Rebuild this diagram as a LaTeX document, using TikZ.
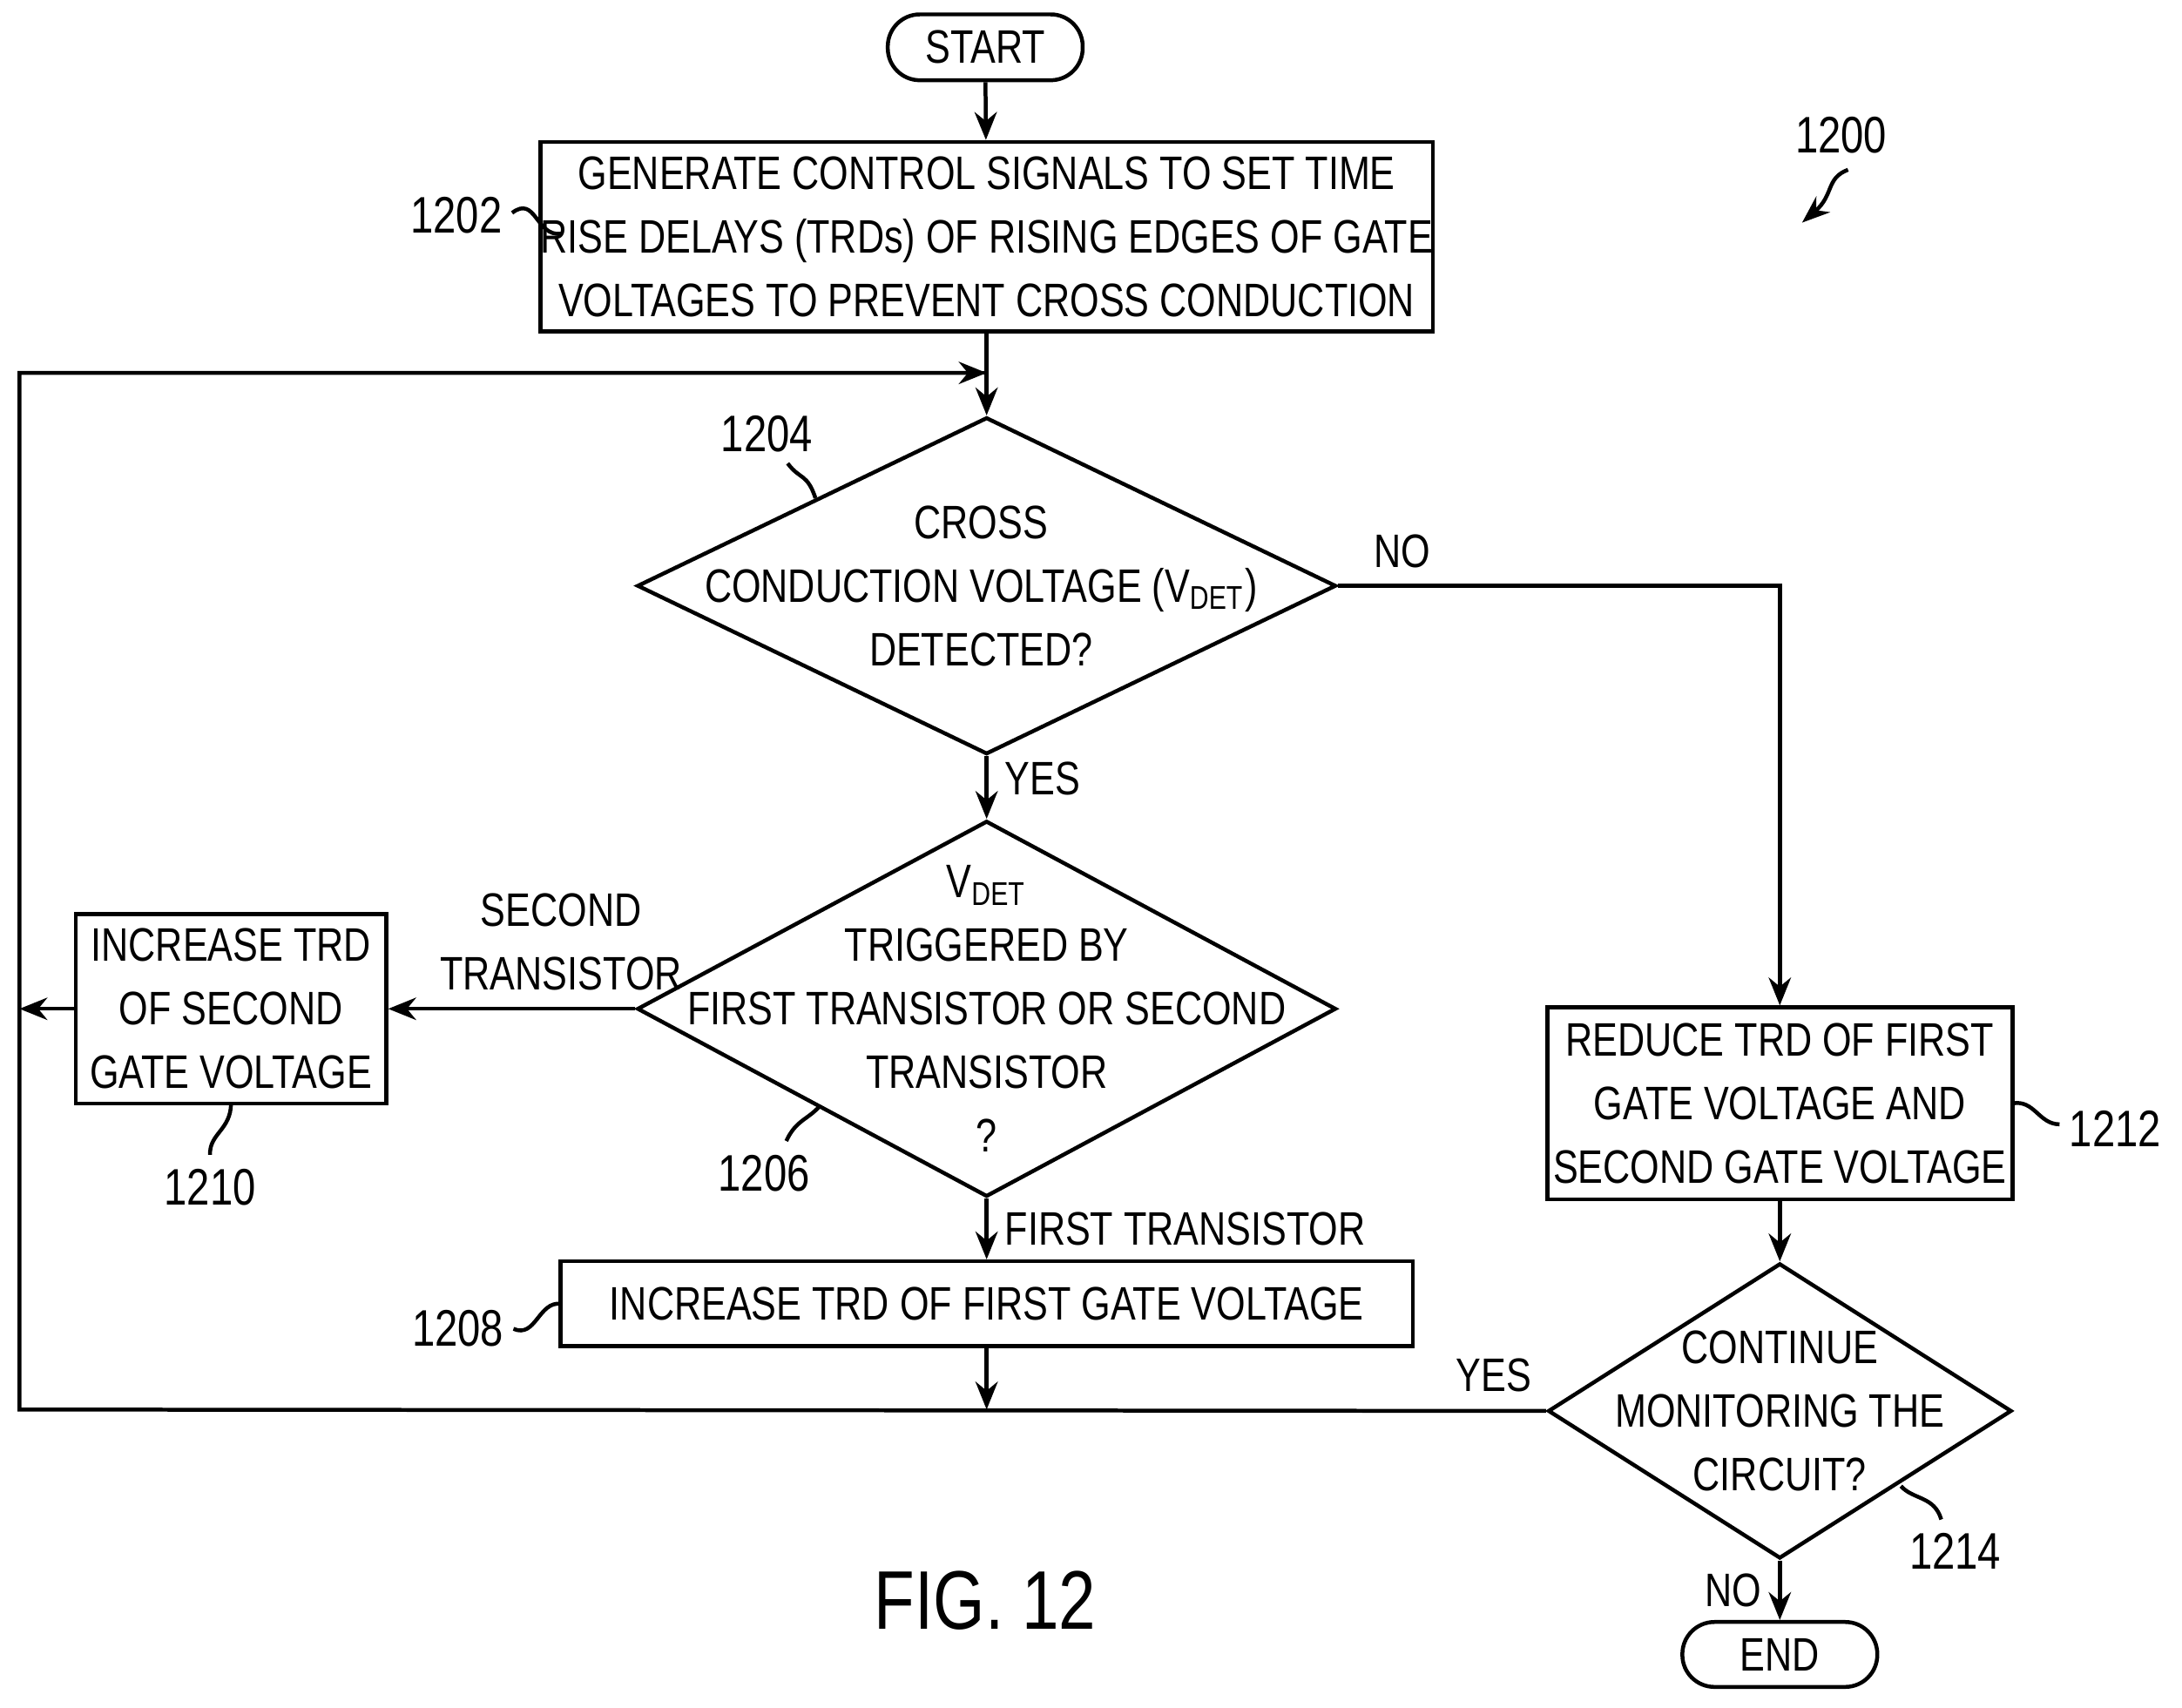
\documentclass[tikz,border=0pt]{standalone}
\usepackage{fontspec}
\setmainfont{Liberation Sans}[FakeStretch=0.8]
\usetikzlibrary{shapes.geometric, positioning, arrows.meta}
\tikzset{box/.style={draw,thick,inner sep=0pt,align=center,font=\fontsize{9.6}{13}\selectfont},
         term/.style={draw,thick,rounded corners=2.3mm,minimum width=1.4cm,minimum height=0.46cm,font=\fontsize{9.6}{12}\selectfont},
         dia/.style={draw,thick,diamond,inner sep=0pt},
         txt/.style={align=center,font=\fontsize{9.6}{13}\selectfont},
         lbl/.style={font=\fontsize{10.5}{12}\selectfont},
         flow/.style={thick,-{Stealth[length=2mm,width=1.6mm]}},
        }
\begin{document}
\begin{tikzpicture}[x=0.01cm,y=-0.01cm]
        \useasboundingbox (0,0) rectangle (1568,1227);
        \node[term](start)at(708,34){START};
        \node[box,minimum width=6.12cm,minimum height=1.36cm](b1202)at(709,170){GENERATE CONTROL SIGNALS TO SET TIME\\RISE DELAYS (TRDs) OF RISING EDGES OF GATE\\VOLTAGES TO PREVENT CROSS CONDUCTION};
        \node[dia,minimum width=5.02cm,minimum height=2.42cm](d1204)at(709,421){};
        \node[txt]at(705,421){CROSS\\CONDUCTION VOLTAGE (V\textsubscript{DET})\\DETECTED?};
        \node[dia,minimum width=5.02cm,minimum height=2.7cm](d1206)at(709,725){};
        \node[txt]at(709,725){V\textsubscript{DET}\\TRIGGERED BY\\FIRST TRANSISTOR OR SECOND\\TRANSISTOR\\?};
        \node[box,minimum width=2.23cm,minimum height=1.36cm](b1210)at(166,725){INCREASE TRD\\OF SECOND\\GATE VOLTAGE};
        \node[box,minimum width=6.12cm,minimum height=0.61cm](b1208)at(709,937){INCREASE TRD OF FIRST GATE VOLTAGE};
        \node[box,minimum width=3.34cm,minimum height=1.38cm](b1212)at(1279,793){REDUCE TRD OF FIRST\\GATE VOLTAGE AND\\SECOND GATE VOLTAGE};
        \node[dia,minimum width=3.33cm,minimum height=2.12cm](d1214)at(1279,1014){};
        \node[txt]at(1279,1014){CONTINUE\\MONITORING THE\\CIRCUIT?};
        \node[term](end)at(1279,1189){END};
        \node[font=\fontsize{17}{20}\rmfamily\selectfont]at(708,1150){FIG. 12};

        \coordinate(loopin)at(709,268);
        \coordinate(join)at(709,1013);
        \coordinate(leftx)at(14,725);

        \draw[flow](start)--(b1202);
        \draw[flow](b1202)--(d1204);
        \draw[thick](14,268)--(loopin);
        \draw[flow](d1204)--(d1206)node[pos=0.35,right,txt]{YES};
        \draw[flow](d1204.east)-|(b1212)node[pos=0.02,above right,txt]{NO};
        \draw[flow](d1206)--(b1210)node[pos=0.3,above,txt]{SECOND\\TRANSISTOR};
        \draw[flow](b1210)--(leftx);
        \draw[flow](d1206)--(b1208)node[midway,right,txt]{FIRST TRANSISTOR};
        \draw[flow](b1208)--(join);
        \draw[flow](b1212)--(d1214);
        \draw[flow](d1214.west)--(14,1013)--(14,268)--(loopin)node[at start,above,xshift=-2.5mm,yshift=-1mm]{};
        \node[txt,above left]at(1113,1013){YES};
        \draw[flow](d1214)--(end)node[midway,left,txt]{NO};

        % reference numerals
        \node[lbl](n1200)at(1323,97){1200};
        \draw[thick,-{Stealth[length=2mm]}](1328,122)..controls(1312,128)and(1318,140)..(1295,160);
        \node[lbl](n1202)at(328,155){1202};
        \draw[thick](368,153)..controls(385,140)and(385,170)..(403,168);
        \node[lbl](n1204)at(551,312){1204};
        \draw[thick](566,333)..controls(575,345)and(580,340)..(586,358);
        \node[lbl](n1206)at(549,843){1206};
        \draw[thick](565,820)..controls(572,805)and(580,805)..(589,795);
        \node[lbl](n1210)at(151,853){1210};
        \draw[thick](151,830)..controls(150,815)and(166,812)..(166,793);
        \node[lbl](n1208)at(329,955){1208};
        \draw[thick](369,955)..controls(385,962)and(387,935)..(403,937);
        \node[lbl](n1212)at(1520,811){1212};
        \draw[thick](1480,808)..controls(1465,808)and(1462,790)..(1446,793);
        \node[lbl](n1214)at(1405,1115){1214};
        \draw[thick](1395,1092)..controls(1390,1075)and(1375,1078)..(1366,1068);
    \end{tikzpicture}
\end{document}
